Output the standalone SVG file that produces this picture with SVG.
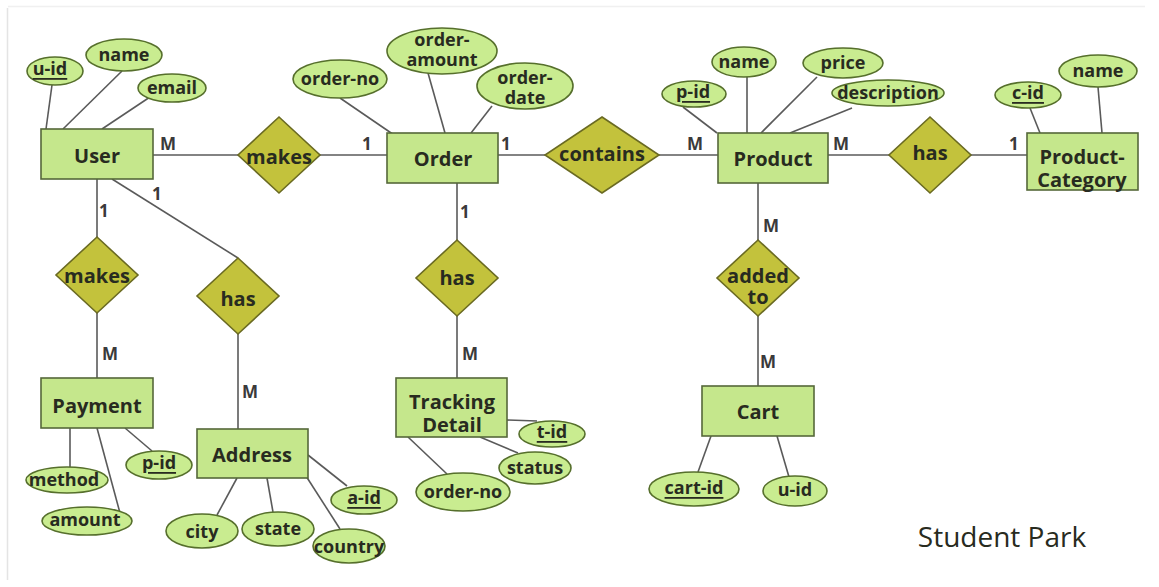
<svg xmlns="http://www.w3.org/2000/svg" width="1159" height="587" viewBox="0 0 1159 587">
  <style>
    .conn line { stroke: #5a5a5a; stroke-width: 1.6; fill: none; }
    .ent rect { fill: #c5e78c; stroke: #55683a; stroke-width: 1.6; }
    .rel polygon { fill: #c3c23c; stroke: #6a6a22; stroke-width: 1.6; }
    .attr ellipse { fill: #c9ec90; stroke: #566f2c; stroke-width: 1.6; }
    text { font-family: "Open Sans", "Noto Sans", "DejaVu Sans", sans-serif; font-weight: 700; fill: #282b20; text-anchor: middle; }
    .big { font-size: 20px; }
    .sm { font-size: 18px; }
    .card { font-size: 17px; fill: #3a3a3a; text-anchor: start; }
    .key { text-decoration: underline; }
    .mid { dominant-baseline: central; }
  </style>

  <rect x="0" y="0" width="1159" height="587" fill="#ffffff"/>
  <!-- page frame -->
  <line x1="7.5" y1="8" x2="7.5" y2="580" stroke="#e4e4e4" stroke-width="1.5"/>
  <line x1="8" y1="6.5" x2="1145" y2="6.5" stroke="#f0f0f0" stroke-width="1.5"/>

  <g id="connectors" class="conn">
    <!-- User attributes -->
    <line x1="52" y1="85" x2="46" y2="129"/>
    <line x1="122" y1="71" x2="63" y2="129"/>
    <line x1="150" y1="97" x2="102" y2="129"/>
    <!-- User - makes - Order -->
    <line x1="153" y1="155" x2="238" y2="155"/>
    <line x1="320" y1="155" x2="387" y2="155"/>
    <!-- Order attributes -->
    <line x1="340" y1="98" x2="397" y2="137"/>
    <line x1="428" y1="73" x2="445" y2="133"/>
    <line x1="492" y1="106" x2="471" y2="133"/>
    <!-- Order - contains - Product -->
    <line x1="498" y1="155" x2="545" y2="155"/>
    <line x1="659" y1="155" x2="718" y2="155"/>
    <!-- Product attributes -->
    <line x1="683" y1="107" x2="717" y2="133"/>
    <line x1="747" y1="77" x2="747" y2="133"/>
    <line x1="817" y1="77" x2="761" y2="133"/>
    <line x1="852" y1="108" x2="790" y2="133"/>
    <!-- Product - has - Product-Category -->
    <line x1="828" y1="155" x2="889" y2="155"/>
    <line x1="971" y1="155" x2="1027" y2="155"/>
    <!-- Product-Category attributes -->
    <line x1="1030" y1="108" x2="1040" y2="133"/>
    <line x1="1098" y1="87" x2="1102" y2="133"/>
    <!-- User - makes - Payment -->
    <line x1="97" y1="179" x2="97" y2="237"/>
    <line x1="97" y1="313" x2="97" y2="378"/>
    <!-- User - has - Address -->
    <line x1="112" y1="179" x2="238" y2="258"/>
    <line x1="238" y1="334" x2="238" y2="429"/>
    <!-- Payment attributes -->
    <line x1="70" y1="428" x2="70" y2="467"/>
    <line x1="97" y1="428" x2="120" y2="513"/>
    <line x1="125" y1="428" x2="152" y2="451"/>
    <!-- Address attributes -->
    <line x1="237" y1="478" x2="217" y2="515"/>
    <line x1="267" y1="478" x2="273" y2="512"/>
    <line x1="306" y1="476" x2="340" y2="529"/>
    <line x1="308" y1="455" x2="347" y2="486"/>
    <!-- Order - has - Tracking Detail -->
    <line x1="457" y1="183" x2="457" y2="240"/>
    <line x1="457" y1="316" x2="457" y2="378"/>
    <!-- Tracking Detail attributes -->
    <line x1="507" y1="420" x2="537" y2="421"/>
    <line x1="480" y1="437" x2="518" y2="453"/>
    <line x1="408" y1="437" x2="447" y2="474"/>
    <!-- Product - added to - Cart -->
    <line x1="758" y1="183" x2="758" y2="240"/>
    <line x1="758" y1="316" x2="758" y2="386"/>
    <!-- Cart attributes -->
    <line x1="711" y1="436" x2="698" y2="472"/>
    <line x1="777" y1="436" x2="789" y2="477"/>
  </g>

  <!-- cardinalities -->
  <g id="cardinalities">
    <text class="card" x="160" y="150">M</text>
    <text class="card" x="362" y="150">1</text>
    <text class="card" x="501" y="150">1</text>
    <text class="card" x="687" y="150">M</text>
    <text class="card" x="833" y="150">M</text>
    <text class="card" x="1009" y="150">1</text>
    <text class="card" x="99" y="217">1</text>
    <text class="card" x="152" y="200">1</text>
    <text class="card" x="102" y="360">M</text>
    <text class="card" x="242" y="398">M</text>
    <text class="card" x="460" y="218">1</text>
    <text class="card" x="462" y="360">M</text>
    <text class="card" x="763" y="232">M</text>
    <text class="card" x="760" y="368">M</text>
  </g>

  <!-- entities -->
  <g id="user" class="ent">
    <rect x="41" y="129" width="112" height="50"/>
    <text class="big mid" x="97" y="155">User</text>
  </g>
  <g id="order" class="ent">
    <rect x="387" y="133" width="111" height="50"/>
    <text class="big mid" x="443" y="158">Order</text>
  </g>
  <g id="product" class="ent">
    <rect x="718" y="133" width="110" height="50"/>
    <text class="big mid" x="773" y="158">Product</text>
  </g>
  <g id="product-category" class="ent">
    <rect x="1027" y="133" width="111" height="57"/>
    <text class="big" x="1082" y="164">Product-<tspan x="1082" dy="23">Category</tspan></text>
  </g>
  <g id="payment" class="ent">
    <rect x="41" y="378" width="112" height="50"/>
    <text class="big mid" x="97" y="405">Payment</text>
  </g>
  <g id="address" class="ent">
    <rect x="197" y="429" width="111" height="49"/>
    <text class="big mid" x="252" y="454">Address</text>
  </g>
  <g id="tracking-detail" class="ent">
    <rect x="396" y="378" width="111" height="59"/>
    <text class="big" x="452" y="409">Tracking<tspan x="452" dy="23">Detail</tspan></text>
  </g>
  <g id="cart" class="ent">
    <rect x="702" y="386" width="112" height="50"/>
    <text class="big mid" x="758" y="411">Cart</text>
  </g>

  <!-- relationships -->
  <g id="rel-user-makes-order" class="rel">
    <polygon points="279,117 320,155 279,193 238,155"/>
    <text class="big mid" x="279" y="156">makes</text>
  </g>
  <g id="rel-contains" class="rel">
    <polygon points="602,117 659,155 602,193 545,155"/>
    <text class="big mid" x="602" y="153">contains</text>
  </g>
  <g id="rel-product-has-category" class="rel">
    <polygon points="930,117 971,155 930,193 889,155"/>
    <text class="big mid" x="930" y="152">has</text>
  </g>
  <g id="rel-user-makes-payment" class="rel">
    <polygon points="97,237 138,275 97,313 56,275"/>
    <text class="big mid" x="97" y="275">makes</text>
  </g>
  <g id="rel-user-has-address" class="rel">
    <polygon points="238,258 279,296 238,334 197,296"/>
    <text class="big mid" x="238" y="298">has</text>
  </g>
  <g id="rel-order-has-tracking" class="rel">
    <polygon points="457,240 498,278 457,316 416,278"/>
    <text class="big mid" x="457" y="277">has</text>
  </g>
  <g id="rel-added-to" class="rel">
    <polygon points="758,240 799,278 758,316 717,278"/>
    <text class="big" x="758" y="283">added<tspan x="758" dy="21">to</tspan></text>
  </g>

  <!-- attributes -->
  <g id="attr-user-uid" class="attr">
    <ellipse cx="55" cy="71" rx="28" ry="14"/>
    <text class="sm mid key" x="50" y="68">u-id</text>
  </g>
  <g id="attr-user-name" class="attr">
    <ellipse cx="124" cy="55" rx="38" ry="16"/>
    <text class="sm mid" x="124" y="54">name</text>
  </g>
  <g id="attr-user-email" class="attr">
    <ellipse cx="172" cy="88" rx="34" ry="14"/>
    <text class="sm mid" x="172" y="87">email</text>
  </g>
  <g id="attr-order-no" class="attr">
    <ellipse cx="340" cy="79" rx="47" ry="19"/>
    <text class="sm mid" x="340" y="78">order-no</text>
  </g>
  <g id="attr-order-amount" class="attr">
    <ellipse cx="442" cy="51" rx="55" ry="23"/>
    <text class="sm" x="442" y="46">order-<tspan x="442" dy="20">amount</tspan></text>
  </g>
  <g id="attr-order-date" class="attr">
    <ellipse cx="525" cy="86" rx="48" ry="23"/>
    <text class="sm" x="525" y="84">order-<tspan x="525" dy="20">date</tspan></text>
  </g>
  <g id="attr-product-pid" class="attr">
    <ellipse cx="694" cy="94" rx="32" ry="13"/>
    <text class="sm mid key" x="693" y="91">p-id</text>
  </g>
  <g id="attr-product-name" class="attr">
    <ellipse cx="744" cy="62" rx="32" ry="15"/>
    <text class="sm mid" x="744" y="61">name</text>
  </g>
  <g id="attr-product-price" class="attr">
    <ellipse cx="843" cy="63" rx="40" ry="15"/>
    <text class="sm mid" x="843" y="62">price</text>
  </g>
  <g id="attr-product-description" class="attr">
    <ellipse cx="888" cy="93" rx="56" ry="13"/>
    <text class="sm mid" x="888" y="92">description</text>
  </g>
  <g id="attr-category-cid" class="attr">
    <ellipse cx="1028" cy="95" rx="33" ry="13"/>
    <text class="sm mid key" x="1028" y="92">c-id</text>
  </g>
  <g id="attr-category-name" class="attr">
    <ellipse cx="1098" cy="71" rx="39" ry="16"/>
    <text class="sm mid" x="1098" y="70">name</text>
  </g>
  <g id="attr-payment-method" class="attr">
    <ellipse cx="67" cy="480" rx="41" ry="13"/>
    <text class="sm mid" x="64" y="479">method</text>
  </g>
  <g id="attr-payment-amount" class="attr">
    <ellipse cx="87" cy="521" rx="45" ry="14"/>
    <text class="sm mid" x="85" y="519">amount</text>
  </g>
  <g id="attr-payment-pid" class="attr">
    <ellipse cx="159" cy="465" rx="33" ry="14"/>
    <text class="sm mid key" x="159" y="462">p-id</text>
  </g>
  <g id="attr-address-city" class="attr">
    <ellipse cx="202" cy="531" rx="36" ry="17"/>
    <text class="sm mid" x="202" y="531">city</text>
  </g>
  <g id="attr-address-state" class="attr">
    <ellipse cx="278" cy="529" rx="36" ry="17"/>
    <text class="sm mid" x="278" y="528">state</text>
  </g>
  <g id="attr-address-country" class="attr">
    <ellipse cx="349" cy="546" rx="36" ry="17"/>
    <text class="sm mid" x="349" y="546">country</text>
  </g>
  <g id="attr-address-aid" class="attr">
    <ellipse cx="364" cy="500" rx="33" ry="14"/>
    <text class="sm mid key" x="364" y="497">a-id</text>
  </g>
  <g id="attr-tracking-tid" class="attr">
    <ellipse cx="552" cy="434" rx="33" ry="13"/>
    <text class="sm mid key" x="552" y="431">t-id</text>
  </g>
  <g id="attr-tracking-status" class="attr">
    <ellipse cx="535" cy="468" rx="36" ry="16"/>
    <text class="sm mid" x="535" y="467">status</text>
  </g>
  <g id="attr-tracking-order-no" class="attr">
    <ellipse cx="463" cy="492" rx="47" ry="19"/>
    <text class="sm mid" x="463" y="491">order-no</text>
  </g>
  <g id="attr-cart-id" class="attr">
    <ellipse cx="694" cy="489" rx="45" ry="17"/>
    <text class="sm mid key" x="694" y="487">cart-id</text>
  </g>
  <g id="attr-cart-uid" class="attr">
    <ellipse cx="795" cy="491" rx="32" ry="15"/>
    <text class="sm mid" x="795" y="489">u-id</text>
  </g>

  <text x="1002" y="547" font-size="28" fill="#333333" style="font-weight:400">Student Park</text>
</svg>
